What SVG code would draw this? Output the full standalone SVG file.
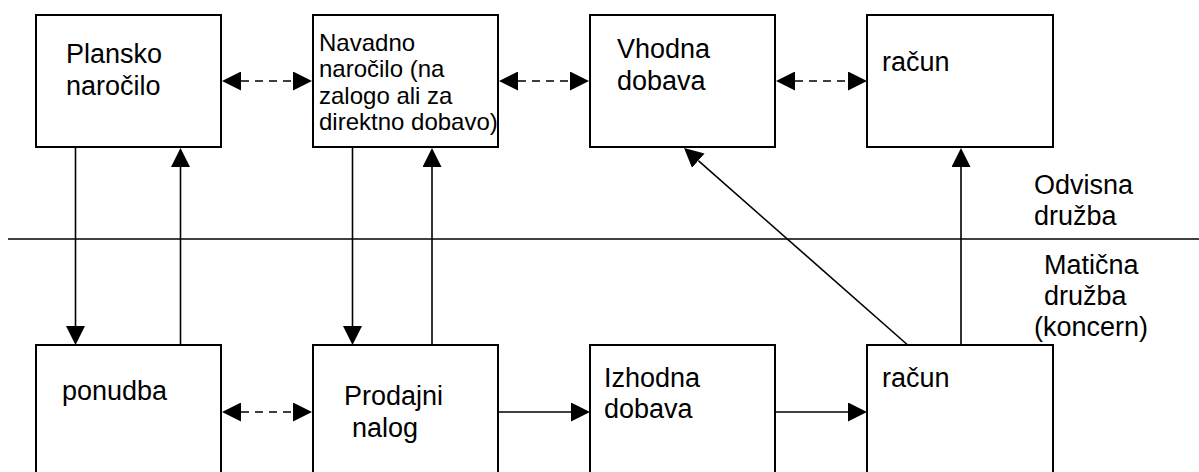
<svg xmlns="http://www.w3.org/2000/svg" width="1199" height="472" viewBox="0 0 1199 472">
  <style>
    .box { fill: #fff; stroke: #000; stroke-width: 2; }
    .lbl { font-family: "Liberation Sans", Arial, sans-serif; font-size: 27px; fill: #000; }
    .small { font-size: 24px; }
    .conn { stroke: #000; stroke-width: 1.6; fill: none; }
    .dash { stroke-dasharray: 8 6; }
    .arr { marker-end: url(#head); }
    .both { marker-start: url(#head); marker-end: url(#head); }
  </style>
  <defs>
    <!-- filled triangular head; base sits on the line end, tip extends beyond -->
    <marker id="head" viewBox="0 0 19 19" refX="0" refY="9.5" markerWidth="19" markerHeight="19" markerUnits="userSpaceOnUse" orient="auto-start-reverse">
      <path d="M0,0 L19,9.5 L0,19 Z" fill="#000"/>
    </marker>
  </defs>

  <rect width="1199" height="472" fill="#fff"/>

  <!-- boundary between subsidiary and parent company -->
  <line x1="8" y1="239" x2="1199" y2="239" stroke="#000" stroke-width="1.6"/>
  <g id="label-odvisna">
    <text class="lbl" x="1034" y="194">Odvisna</text>
    <text class="lbl" x="1034" y="225">družba</text>
  </g>
  <g id="label-maticna">
    <text class="lbl" x="1044" y="274">Matična</text>
    <text class="lbl" x="1044" y="305">družba</text>
    <text class="lbl" x="1034" y="336">(koncern)</text>
  </g>

  <!-- upper row: subsidiary documents -->
  <g id="plansko-narocilo">
    <rect class="box" x="36" y="15" width="185" height="132"/>
    <text class="lbl" x="66" y="63">Plansko</text>
    <text class="lbl" x="66" y="95">naročilo</text>
  </g>
  <g id="navadno-narocilo">
    <rect class="box" x="313" y="15" width="185" height="132"/>
    <text class="lbl small" x="319" y="51">Navadno</text>
    <text class="lbl small" x="319" y="77">naročilo (na</text>
    <text class="lbl small" x="319" y="104">zalogo ali za</text>
    <text class="lbl small" x="319" y="130">direktno dobavo)</text>
  </g>
  <g id="vhodna-dobava">
    <rect class="box" x="590" y="15" width="185" height="132"/>
    <text class="lbl" x="617" y="58">Vhodna</text>
    <text class="lbl" x="617" y="90">dobava</text>
  </g>
  <g id="racun-odvisna">
    <rect class="box" x="867" y="15" width="186" height="132"/>
    <text class="lbl" x="882" y="71">račun</text>
  </g>

  <!-- lower row: parent company documents -->
  <g id="ponudba">
    <rect class="box" x="36" y="345" width="185" height="140"/>
    <text class="lbl" x="62" y="400">ponudba</text>
  </g>
  <g id="prodajni-nalog">
    <rect class="box" x="313" y="345" width="185" height="140"/>
    <text class="lbl" x="344" y="405">Prodajni</text>
    <text class="lbl" x="352" y="437">nalog</text>
  </g>
  <g id="izhodna-dobava">
    <rect class="box" x="590" y="345" width="185" height="140"/>
    <text class="lbl" x="604" y="387">Izhodna</text>
    <text class="lbl" x="604" y="418">dobava</text>
  </g>
  <g id="racun-maticna">
    <rect class="box" x="867" y="345" width="186" height="140"/>
    <text class="lbl" x="882" y="387">račun</text>
  </g>

  <g id="connectors">
    <!-- dashed two-way links, upper row -->
    <line class="conn dash both" x1="241" y1="81" x2="293" y2="81"/>
    <line class="conn dash both" x1="518" y1="81" x2="570" y2="81"/>
    <line class="conn dash both" x1="795" y1="81" x2="848" y2="81"/>
    <!-- dashed two-way link, lower row -->
    <line class="conn dash both" x1="241" y1="412" x2="293" y2="412"/>
    <!-- solid flow, lower row -->
    <line class="conn arr" x1="498" y1="412" x2="571" y2="412"/>
    <line class="conn arr" x1="775" y1="412" x2="848" y2="412"/>
    <!-- vertical links across the boundary -->
    <line class="conn arr" x1="75.5" y1="147" x2="75.5" y2="326"/>
    <line class="conn arr" x1="180.5" y1="345" x2="180.5" y2="167"/>
    <line class="conn arr" x1="352.5" y1="147" x2="352.5" y2="326"/>
    <line class="conn arr" x1="432" y1="345" x2="432" y2="167"/>
    <line class="conn arr" x1="961" y1="345" x2="961" y2="167"/>
    <!-- diagonal from parent invoice to incoming delivery -->
    <line class="conn arr" x1="907.7" y1="345" x2="698.3" y2="160.6"/>
  </g>
</svg>
